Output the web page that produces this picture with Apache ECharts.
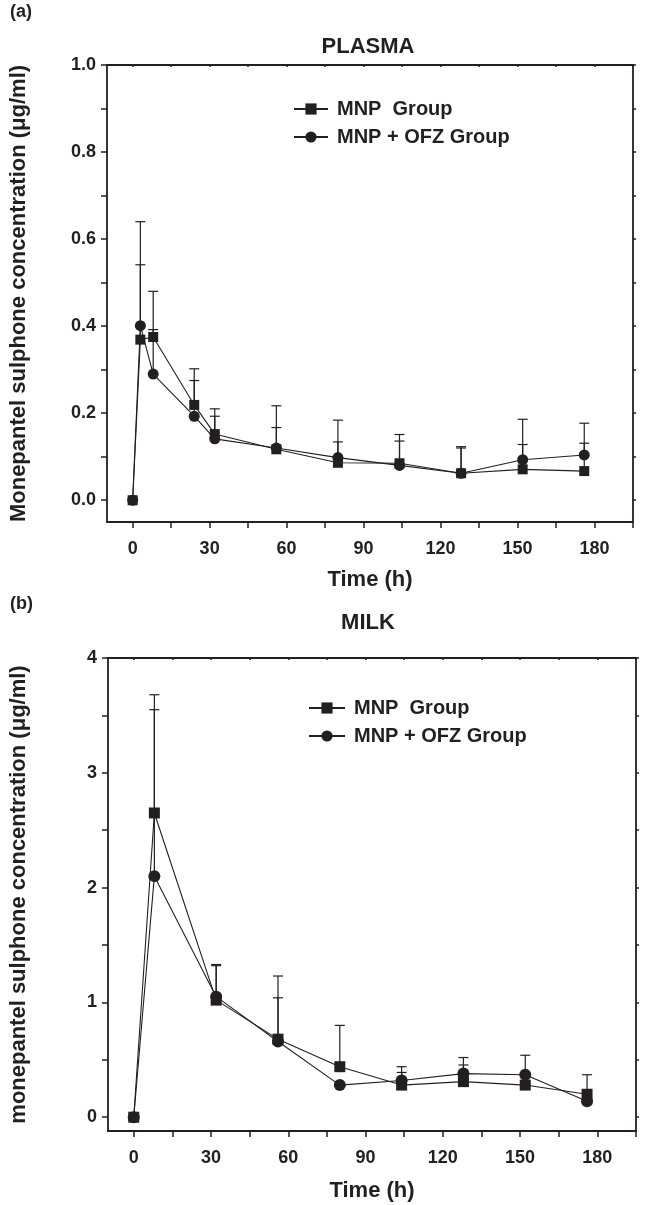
<!DOCTYPE html>
<html>
<head>
<meta charset="utf-8">
<script src="https://cdn.jsdelivr.net/npm/echarts@6/dist/echarts.min.js"></script>
<style>
html,body{margin:0;padding:0;background:#fff;}
#c{width:651px;height:1205px;}
</style>
</head>
<body>
<div id="c"></div>
<script>
// ---- data ----
const seriesNames = ['MNP  Group', 'MNP + OFZ Group'];

const plasmaTimes = [0, 3, 8, 24, 32, 56, 80, 104, 128, 152, 176];
const plasmaMNP   = [0, 0.369, 0.375, 0.219, 0.152, 0.117, 0.086, 0.085, 0.062, 0.071, 0.067];
const plasmaOFZ   = [0, 0.401, 0.290, 0.193, 0.141, 0.120, 0.098, 0.080, 0.062, 0.093, 0.104];
const plasmaMNPsd = [0, 0.172, 0.105, 0.083, 0.058, 0.050, 0.048, 0.051, 0.058, 0.057, 0.064];
const plasmaOFZsd = [0, 0.239, 0.102, 0.082, 0.052, 0.097, 0.086, 0.071, 0.061, 0.093, 0.073];

const milkTimes = [0, 8, 32, 56, 80, 104, 128, 152, 176];
const milkMNP   = [0, 2.65, 1.02, 0.68, 0.44, 0.28, 0.31, 0.28, 0.20];
const milkOFZ   = [0, 2.10, 1.05, 0.66, 0.28, 0.32, 0.38, 0.37, 0.14];
const milkMNPsd = [0, 1.03, 0.31, 0.55, 0.36, 0.11, 0.145, 0, 0.17];
const milkOFZsd = [0, 1.45, 0.27, 0.38, 0, 0.12, 0.14, 0.17, 0];

const xTicks = [0, 15, 30, 45, 60, 75, 90, 105, 120, 135, 150, 165, 180, 195];
const xLabels = [0, 30, 60, 90, 120, 150, 180];
const plasmaYTicks = [0, 0.1, 0.2, 0.3, 0.4, 0.5, 0.6, 0.7, 0.8, 0.9, 1.0];
const plasmaYLabels = [0, 0.2, 0.4, 0.6, 0.8, 1.0];
const milkYTicks = [0, 0.5, 1, 1.5, 2, 2.5, 3, 3.5, 4];
const milkYLabels = [0, 1, 2, 3, 4];

// ---- styling ----
const INK = '#231f20';
const FONT = '"Liberation Sans", Arial, sans-serif';

function pairs(t, v) { return t.map((x, i) => [x, v[i]]); }
function errData(t, v, sd) {
  const out = [];
  t.forEach((x, i) => { if (sd[i] > 0) out.push([x, v[i], v[i] + sd[i]]); });
  return out;
}
function errRender(params, api) {
  const p0 = api.coord([api.value(0), api.value(1)]);
  const p1 = api.coord([api.value(0), api.value(2)]);
  const hw = 5;
  return {
    type: 'group',
    children: [
      { type: 'line', shape: { x1: p0[0], y1: p0[1], x2: p1[0], y2: p1[1] }, style: { stroke: INK, lineWidth: 1.2 } },
      { type: 'line', shape: { x1: p1[0] - hw, y1: p1[1], x2: p1[0] + hw, y2: p1[1] }, style: { stroke: INK, lineWidth: 1.2 } }
    ]
  };
}

const nameStyle = { color: INK, fontFamily: FONT, fontWeight: 'bold', fontSize: 22 };
const tickStyle = { color: INK, fontFamily: FONT, fontWeight: 'bold', fontSize: 18 };

function bottomX(gi, gap) {
  return {
    type: 'value', gridIndex: gi, min: -10, max: 195, position: 'bottom',
    axisLine: { show: true, onZero: false, lineStyle: { color: INK, width: 1.8 } },
    axisTick: { show: true, customValues: xTicks, length: 6, lineStyle: { color: INK, width: 1.5 } },
    axisLabel: Object.assign({ customValues: xLabels, margin: 18 }, tickStyle),
    splitLine: { show: false },
    name: 'Time (h)', nameLocation: 'middle', nameGap: gap,
    nameTextStyle: nameStyle
  };
}
function topX(gi) {
  return {
    type: 'value', gridIndex: gi, min: -10, max: 195, position: 'top',
    axisLine: { show: true, onZero: false, lineStyle: { color: INK, width: 1.8 } },
    axisTick: { show: true, inside: true, customValues: xTicks, length: 2, lineStyle: { color: INK, width: 1.5 } },
    axisLabel: { show: false }, splitLine: { show: false }
  };
}
function leftY(gi, min, max, ticks, labels, fmt, name, gap) {
  return {
    type: 'value', gridIndex: gi, min: min, max: max, position: 'left',
    axisLine: { show: true, onZero: false, lineStyle: { color: INK, width: 1.8 } },
    axisTick: { show: true, customValues: ticks, length: 6, lineStyle: { color: INK, width: 1.5 } },
    axisLabel: Object.assign({ customValues: labels, formatter: fmt, margin: 11 }, tickStyle),
    splitLine: { show: false },
    name: name, nameLocation: 'middle', nameGap: gap,
    nameTextStyle: nameStyle
  };
}
function rightY(gi, min, max, ticks) {
  return {
    type: 'value', gridIndex: gi, min: min, max: max, position: 'right',
    axisLine: { show: true, onZero: false, lineStyle: { color: INK, width: 1.8 } },
    axisTick: { show: true, customValues: ticks, length: 3, lineStyle: { color: INK, width: 1.5 } },
    axisLabel: { show: false }, splitLine: { show: false }
  };
}
function lineSeries(name, xi, yi, data, symbol, size) {
  return {
    type: 'line', name: name, xAxisIndex: xi, yAxisIndex: yi, data: data,
    symbol: symbol, symbolSize: size, showSymbol: true,
    lineStyle: { color: INK, width: 1.1 }, itemStyle: { color: INK },
    z: 3, animation: false
  };
}
function errSeries(name, xi, yi, data) {
  return {
    type: 'custom', name: name, xAxisIndex: xi, yAxisIndex: yi, data: data,
    renderItem: errRender, z: 2, animation: false, silent: true
  };
}
const legendText = { color: INK, fontFamily: FONT, fontWeight: 'bold', fontSize: 20, padding: [0, 0, 0, 4] };
const titleStyle = { color: INK, fontFamily: FONT, fontWeight: 'bold', fontSize: 22 };
const tagStyle = { color: INK, fontFamily: FONT, fontWeight: 'bold', fontSize: 18 };

const chart = echarts.init(document.getElementById('c'), null, { renderer: 'canvas' });
chart.setOption({
  backgroundColor: '#fff',
  animation: false,
  title: [
    { text: '(a)', left: 10, top: 3, padding: 0, textStyle: tagStyle },
    { text: 'PLASMA', left: 368, textAlign: 'center', top: 36, padding: 0, textStyle: titleStyle },
    { text: '(b)', left: 10, top: 595, padding: 0, textStyle: tagStyle },
    { text: 'MILK', left: 368, textAlign: 'center', top: 612, padding: 0, textStyle: titleStyle }
  ],
  legend: [
    { orient: 'vertical', left: 293, top: 99, padding: 0, itemWidth: 34, itemHeight: 14, itemGap: 8,
      data: seriesNames, textStyle: legendText, selectedMode: false },
    { orient: 'vertical', left: 308, top: 698, padding: 0, itemWidth: 36, itemHeight: 14, itemGap: 8,
      data: seriesNames, textStyle: legendText, selectedMode: false }
  ],
  grid: [
    { left: 103, right: 18, top: 65, bottom: 683 },
    { left: 106, right: 15, top: 658, bottom: 74 }
  ],
  xAxis: [bottomX(0, 47), topX(0), bottomX(1, 49), topX(1)],
  yAxis: [
    leftY(0, -0.05, 1.0, plasmaYTicks, plasmaYLabels, v => v.toFixed(1), 'Monepantel sulphone concentration (μg/ml)', 77),
    rightY(0, -0.05, 1.0, plasmaYTicks),
    leftY(1, -0.12, 4, milkYTicks, milkYLabels, v => String(Math.round(v)), 'monepantel sulphone concentration (μg/ml)', 78),
    rightY(1, -0.12, 4, milkYTicks)
  ],
  series: [
    errSeries('errP1', 0, 0, errData(plasmaTimes, plasmaMNP, plasmaMNPsd)),
    errSeries('errP2', 0, 0, errData(plasmaTimes, plasmaOFZ, plasmaOFZsd)),
    lineSeries(seriesNames[0], 0, 0, pairs(plasmaTimes, plasmaMNP), 'rect', 10),
    lineSeries(seriesNames[1], 0, 0, pairs(plasmaTimes, plasmaOFZ), 'circle', 11),
    errSeries('errM1', 2, 2, errData(milkTimes, milkMNP, milkMNPsd)),
    errSeries('errM2', 2, 2, errData(milkTimes, milkOFZ, milkOFZsd)),
    lineSeries(seriesNames[0], 2, 2, pairs(milkTimes, milkMNP), 'rect', 11),
    lineSeries(seriesNames[1], 2, 2, pairs(milkTimes, milkOFZ), 'circle', 12)
  ]
});
</script>
</body>
</html>
